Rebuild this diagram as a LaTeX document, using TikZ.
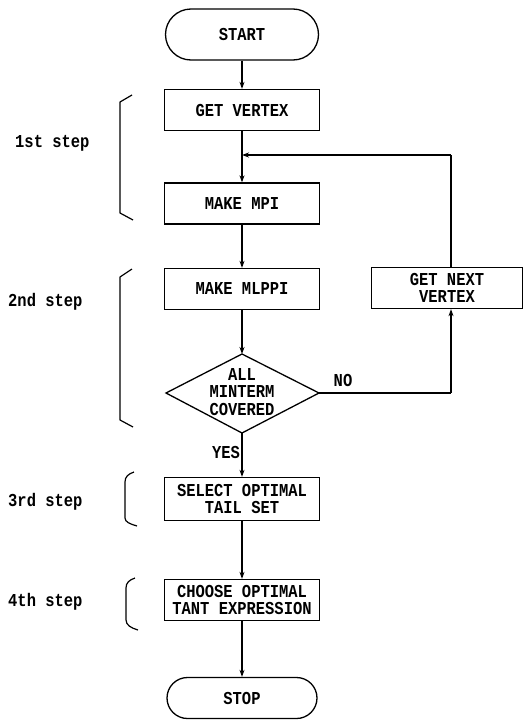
\documentclass[tikz,border=0pt]{standalone}
\usepackage{fontspec}
\newfontfamily\flowfont{Liberation Mono}[FakeStretch=0.85]
\usetikzlibrary{shapes.misc,arrows.meta}

\begin{document}
\begin{tikzpicture}[x=1pt,y=-1pt,
  every node/.style={font=\flowfont\bfseries\fontsize{18.2}{17.5}\selectfont},
  box/.style={draw, line width=1.3pt, minimum width=155pt, minimum height=41pt,
              align=center, inner sep=2pt},
  term/.style={draw, rounded rectangle, line width=1.3pt, inner sep=2pt},
  lbl/.style={inner sep=0pt, anchor=west},
  flow/.style={line width=1.3pt, -{Stealth[length=7pt,width=5pt]}},
  line/.style={line width=1.3pt},
  brace/.style={line width=1.2pt, line join=round},
]
\useasboundingbox (0,0) rectangle (525,720);

% terminals and process boxes
\node[term, minimum width=157pt, minimum height=51pt] (start) at (242,34.5) {START};
\node[box] (getv)   at (242,110)   {GET VERTEX};
\node[box] (mpi)    at (242,203.5) {MAKE MPI};
\node[box] (mlppi)  at (242,289)   {MAKE MLPPI};
\node[box, minimum width=151pt] (next) at (447,288) {GET NEXT\\VERTEX};
\node[box, minimum height=43pt] (sel)  at (242,499) {SELECT OPTIMAL\\TAIL SET};
\node[box] (choose) at (242,600)   {CHOOSE OPTIMAL\\TANT EXPRESSION};
\node[term, minimum width=154pt, minimum height=41pt] (stop) at (242,698) {STOP};

% decision
\coordinate (dN) at (242,354);
\coordinate (dE) at (319,393);
\coordinate (dS) at (242,433);
\coordinate (dW) at (166,393);
\draw[line, line join=miter] (dN) -- (dE) -- (dS) -- (dW) -- cycle;
\node[align=center, inner sep=0pt] (dtext) at (242,392) {ALL\\MINTERM\\COVERED};

% main flow
\coordinate (jn) at (242,155);
\coordinate (nc) at (451,393);
\draw[flow] (start.south) -- (getv.north);
\draw[flow] (getv.south) -- (mpi.north);
\draw[flow] (mpi.south) -- (mlppi.north);
\draw[flow] (mlppi.south) -- (dN);
\draw[flow] (dS) -- (sel.north);
\draw[flow] (sel.south) -- (choose.north);
\draw[flow] (choose.south) -- (stop.north);

% loop back for the next vertex
\draw[line] (dE) -- (nc);
\draw[flow] (nc) -- (nc |- next.south);
\draw[line] (nc |- next.north) -- (nc |- jn);
\draw[flow] (nc |- jn) -- (jn);

\node (no)  at (343,380) {NO};
\node (yes) at (226,452) {YES};

% step labels and brackets
\node[lbl] (s1) at (15,143) {1st step};
\node[lbl] (s2) at (8,302)  {2nd step};
\node[lbl] (s3) at (8,502)  {3rd step};
\node[lbl] (s4) at (8,602)  {4th step};

\draw[brace] (132,95) -- (120,102) -- (120,213) -- (133,220);
\draw[brace] (132,269) -- (120,277) -- (120,420) -- (133,427);
\draw[brace] (134,472) .. controls (128,474) and (125,477) .. (125,482)
             -- (125,518) .. controls (125,522) and (130,524) .. (137,526);
\draw[brace] (135,578) .. controls (129,580) and (126,583) .. (126,588)
             -- (126,620) .. controls (126,625) and (131,628) .. (138,630);
\end{tikzpicture}
\end{document}
